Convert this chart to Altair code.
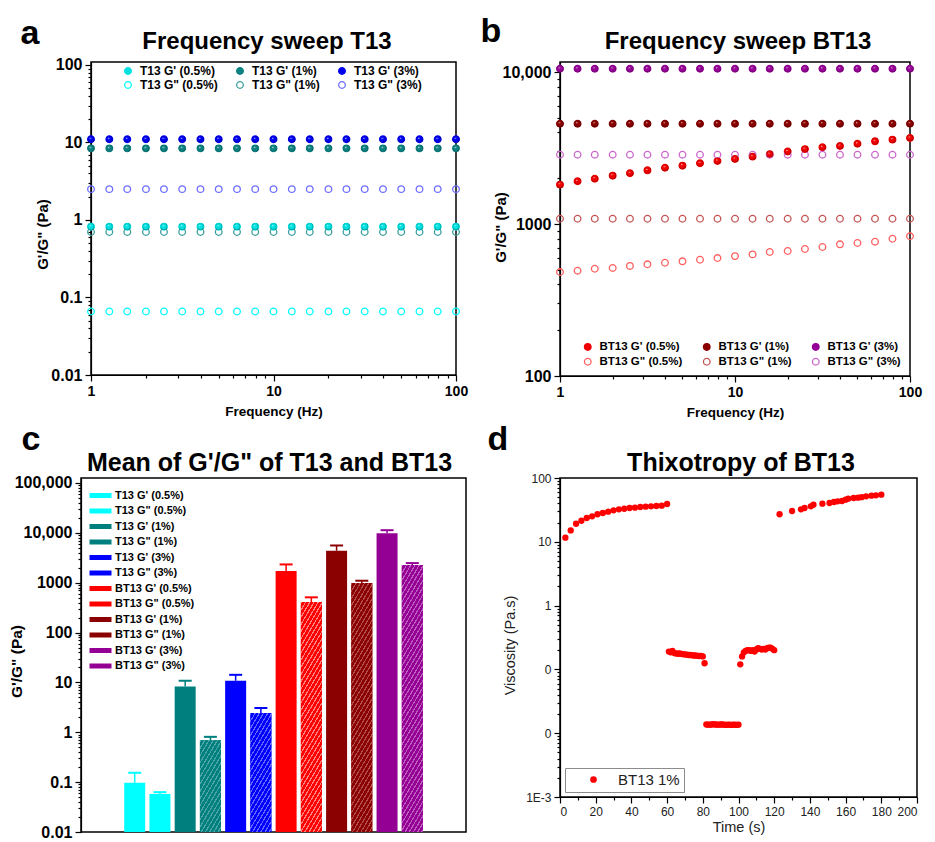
import math
import altair as alt
import pandas as pd

FONT = "Liberation Sans"

# ---------------- panel a : frequency sweep T13 ----------------
freq_hz = [1, 1.26, 1.58, 2.0, 2.51, 3.16, 3.98, 5.01, 6.31, 7.94, 10,
           12.6, 15.8, 20.0, 25.1, 31.6, 39.8, 50.1, 63.1, 79.4, 100]
# legend order (column by column): G'/G" pairs for each concentration
a_series = ["T13 G' (0.5%)", 'T13 G" (0.5%)', "T13 G' (1%)",
            'T13 G" (1%)', "T13 G' (3%)", 'T13 G" (3%)']
a_gp_05 = [0.82, 0.82, 0.82, 0.82, 0.82, 0.82, 0.82, 0.82, 0.82, 0.82, 0.82,
           0.82, 0.82, 0.82, 0.82, 0.82, 0.82, 0.82, 0.82, 0.82, 0.82]
a_gpp_05 = [0.066, 0.066, 0.066, 0.066, 0.066, 0.066, 0.066, 0.066, 0.066, 0.066, 0.066,
            0.066, 0.066, 0.066, 0.066, 0.066, 0.066, 0.066, 0.066, 0.066, 0.066]
a_gp_1 = [8.4, 8.4, 8.4, 8.4, 8.4, 8.4, 8.4, 8.4, 8.4, 8.4, 8.4,
          8.4, 8.4, 8.4, 8.4, 8.4, 8.4, 8.4, 8.4, 8.4, 8.4]
a_gpp_1 = [0.70, 0.70, 0.70, 0.70, 0.70, 0.70, 0.70, 0.70, 0.70, 0.70, 0.70,
           0.70, 0.70, 0.70, 0.70, 0.70, 0.70, 0.70, 0.70, 0.70, 0.70]
a_gp_3 = [11.0, 11.0, 11.0, 11.0, 11.0, 11.0, 11.0, 11.0, 11.0, 11.0, 11.0,
          11.0, 11.0, 11.0, 11.0, 11.0, 11.0, 11.0, 11.0, 11.0, 11.0]
a_gpp_3 = [2.5, 2.5, 2.5, 2.5, 2.5, 2.5, 2.5, 2.5, 2.5, 2.5, 2.5,
           2.5, 2.5, 2.5, 2.5, 2.5, 2.5, 2.5, 2.5, 2.5, 2.5]
a_stroke = ["#00E0E0", "#00FFFF", "#0F8282", "#3A9E9E", "#0000EE", "#6C6CFF"]
a_fill = ["#00E0E0", "transparent", "#0F8282", "transparent", "#0000EE", "transparent"]
a_dark = ["#007070", None, "#004040", None, "#000070", None]

# ---------------- panel b : frequency sweep BT13 ----------------
b_series = ["BT13 G' (0.5%)", 'BT13 G" (0.5%)', "BT13 G' (1%)",
            'BT13 G" (1%)', "BT13 G' (3%)", 'BT13 G" (3%)']
b_gp_05 = [1815, 1910, 1985, 2080, 2157, 2255, 2346, 2420, 2508, 2597, 2680,
           2775, 2880, 3000, 3110, 3197, 3260, 3373, 3499, 3589, 3681]
b_gpp_05 = [483, 493, 508, 514, 530, 543, 556, 568, 582, 597, 615,
            631, 654, 664, 685, 706, 735, 750, 765, 800, 830]
b_gp_1 = [4570, 4570, 4570, 4570, 4570, 4570, 4570, 4570, 4570, 4570, 4570,
          4570, 4570, 4570, 4570, 4570, 4570, 4570, 4570, 4570, 4570]
b_gpp_1 = [1083, 1083, 1083, 1083, 1083, 1083, 1083, 1083, 1083, 1083, 1083,
           1083, 1083, 1083, 1083, 1083, 1083, 1083, 1083, 1083, 1083]
b_gp_3 = [10500, 10500, 10500, 10500, 10500, 10500, 10500, 10500, 10500, 10500, 10500,
          10500, 10500, 10500, 10500, 10500, 10500, 10500, 10500, 10500, 10500]
b_gpp_3 = [2857, 2857, 2857, 2857, 2857, 2857, 2857, 2857, 2857, 2857, 2857,
           2857, 2857, 2857, 2857, 2857, 2857, 2857, 2857, 2857, 2857]
b_stroke = ["#F00000", "#FF5E5E", "#8A0000", "#C45454", "#960096", "#CC66CC"]
b_fill = ["#F00000", "transparent", "#8A0000", "transparent", "#960096", "transparent"]
b_dark = ["#700000", None, "#3A0000", None, "#500050", None]

# ---------------- panel c : mean bars ----------------
c_categories = ["T13 G' (0.5%)", 'T13 G" (0.5%)', "T13 G' (1%)", 'T13 G" (1%)',
                "T13 G' (3%)", 'T13 G" (3%)', "BT13 G' (0.5%)", 'BT13 G" (0.5%)',
                "BT13 G' (1%)", 'BT13 G" (1%)', "BT13 G' (3%)", 'BT13 G" (3%)']
c_means = [0.097, 0.058, 8.3, 0.69, 10.8, 2.44, 1711, 410, 4365, 985, 9840, 2256]
c_sd = [0.057, 0.005, 2.5, 0.12, 3.4, 0.63, 615, 99, 1215, 111, 1460, 218]
c_colors = ["#00FFFF", "#00FFFF", "#007F7F", "#007F7F", "#0000FF", "#0000FF",
            "#FF0000", "#FF0000", "#8B0000", "#8B0000", "#930093", "#930093"]
c_stripe = ["#7FFFFF", "#7FFFFF", "#4DA6A6", "#4DA6A6", "#6666FF", "#6666FF",
            "#FF8080", "#FF8080", "#B34D4D", "#B34D4D", "#BF5CBF", "#BF5CBF"]
c_hatched = [False, False, False, True, False, True, False, True, False, True, False, True]

# ---------------- panel d : thixotropy ----------------
d_time_s = [3, 6, 9, 12, 15, 18, 21, 24, 27, 30, 33, 36, 39, 42, 45, 48, 51, 54, 57, 60,
            61, 62, 63, 64, 65, 66, 67, 68, 69, 70, 71, 72, 73, 74, 75, 76, 77, 78, 79, 80, 81,
            82, 83, 84, 85, 86, 87, 88, 89, 90, 91, 92, 93, 94, 95, 96, 97, 98, 99, 100,
            101, 102, 103, 104, 105, 106, 107, 108, 109, 110, 111, 112, 113, 114, 115, 116,
            117, 118, 119, 120,
            123, 130, 135, 137, 140.5, 142, 147, 151, 153.5, 155.5, 158, 160, 161.5, 164.5,
            167, 169, 171.5, 174.5, 177, 180]
d_viscosity = [11.6, 15.1, 19.2, 21.4, 23.6, 25.1, 27.0, 28.3, 29.7, 31.1, 32.3, 33.0, 33.9,
               34.3, 35.1, 35.5, 36.0, 36.4, 36.8, 39.1,
               0.19, 0.185, 0.195, 0.18, 0.178, 0.176, 0.178, 0.175, 0.172, 0.172, 0.17, 0.168,
               0.168, 0.166, 0.165, 0.165, 0.163, 0.162, 0.163, 0.16, 0.125,
               0.0137, 0.0136, 0.0136, 0.0137, 0.0138, 0.0137, 0.0136, 0.0136, 0.0137, 0.0137,
               0.0136, 0.0135, 0.0136, 0.0136, 0.0135, 0.0136, 0.0136, 0.0135, 0.0136,
               0.12, 0.16, 0.185, 0.195, 0.2, 0.2, 0.195, 0.2, 0.19, 0.205, 0.215, 0.21, 0.205,
               0.21, 0.205, 0.215, 0.22, 0.22, 0.21, 0.2,
               27.0, 30.4, 32.3, 33.9, 36.0, 38.2, 39.6, 40.6, 42.1, 43.1, 43.6, 45.7, 47.4,
               48.6, 49.2, 50.0, 51.6, 52.9, 53.5, 54.8]
d_label = "BT13 1%"

# titles and axis tick labels
panel_titles = ["Frequency sweep T13", "Frequency sweep BT13",
                "Mean of G'/G\" of T13 and BT13", "Thixotropy of BT13"]
freq_majors = [1, 10, 100]
freq_labels = ["1", "10", "100"]
a_majors = [0.01, 0.1, 1, 10, 100]
a_labels = ["0.01", "0.1", "1", "10", "100"]
b_majors = [100, 1000, 10000]
b_labels = ["100", "1000", "10,000"]
c_majors = [0.01, 0.1, 1, 10, 100, 1000, 10000, 100000]
c_labels = ["0.01", "0.1", "1", "10", "100", "1000", "10,000", "100,000"]
d_majors = [0.001, 0.01, 0.1, 1, 10, 100]
d_labels = ["1E-3", "0", "0", "1", "10", "100"]

# ---------------- helpers ----------------
MAJOR = "abs(log(datum.value)/LN10 - round(log(datum.value)/LN10)) < 0.0001"


def log_tick_values(lo, hi):
    vals = []
    for e in range(lo, hi):
        for k in range(1, 10):
            vals.append(float(f"{k}e{e}"))
    vals.append(float(f"1e{hi}"))
    return vals


def label_expr(vals, labels):
    expr = "''"
    for v, l in zip(reversed(vals), reversed(labels)):
        expr = f"(abs(datum.value - {v!r}) < {v!r} * 0.000001) ? '{l}' : {expr}"
    return expr


def log_axis(lo, hi, majors, labels, title, bold=True, size=16, **kw):
    return alt.Axis(
        values=log_tick_values(lo, hi), labelExpr=label_expr(majors, labels),
        tickSize={"condition": {"test": MAJOR, "value": 6}, "value": 3},
        labelOverlap=False, grid=False, title=title,
        labelFont=FONT, labelFontSize=size, labelFontWeight="bold" if bold else "normal",
        titleFont=FONT, titleFontWeight="bold" if bold else "normal", **kw)


def long_df(names, arrays, xs):
    rows = []
    for n, arr in zip(names, arrays):
        for x, v in zip(xs, arr):
            rows.append({"freq": x, "value": v, "series": n})
    return pd.DataFrame(rows)


def sphere(base, dark):
    return {"gradient": "radial", "x1": 0.38, "y1": 0.3, "r1": 0.0,
            "x2": 0.5, "y2": 0.5, "r2": 0.55,
            "stops": [{"offset": 0.0, "color": "#FFFFFF"},
                      {"offset": 0.3, "color": base},
                      {"offset": 0.75, "color": base},
                      {"offset": 1.0, "color": dark}]}


def text_at(txt, x, y, size, align="center"):
    return alt.Chart(pd.DataFrame({"t": [txt]})).mark_text(
        font=FONT, fontSize=size, fontWeight="bold", align=align,
        baseline="alphabetic", color="black").encode(
        text="t:N", x=alt.value(x), y=alt.value(y))


def sweep_panel(df, names, strokes, fills, darks, ydom, yaxis, legend, w, h, deco):
    x_enc = alt.X("freq:Q", scale=alt.Scale(type="log", domain=[1, 100], nice=False),
                  axis=log_axis(0, 2, freq_majors, freq_labels, "Frequency (Hz)", size=14,
                                labelFlush=False, labelPadding=3, titleFontSize=13.5,
                                titlePadding=6))
    y_enc = alt.Y("value:Q", scale=alt.Scale(type="log", domain=ydom, nice=False), axis=yaxis)
    base = alt.Chart(df).mark_point(size=44, strokeWidth=1.3, opacity=1).encode(
        x=x_enc, y=y_enc,
        stroke=alt.Stroke("series:N", scale=alt.Scale(domain=names, range=strokes), legend=legend),
        fill=alt.Fill("series:N", scale=alt.Scale(domain=names, range=fills), legend=legend),
    )
    layers = [base]
    for i in range(len(names)):
        if darks[i]:
            layers.append(
                alt.Chart(df).transform_filter(alt.datum.series == names[i])
                .mark_point(size=44, filled=True, fill=sphere(fills[i], darks[i]), opacity=1,
                            strokeWidth=0)
                .encode(x=x_enc, y=y_enc))
    layers += deco
    return alt.layer(*layers).properties(width=w, height=h)


# ---------------- panel a ----------------
A_W, A_H = 365, 313
df_a = long_df(a_series, [a_gp_05, a_gpp_05, a_gp_1, a_gpp_1, a_gp_3, a_gpp_3], freq_hz)
legend_a = alt.Legend(title=None, orient="none", legendX=31, legendY=3, columns=3,
                      columnPadding=16, rowPadding=2, padding=0, labelFont=FONT,
                      labelFontSize=12, labelFontWeight="bold", labelOffset=6,
                      symbolType="circle", symbolSize=44, symbolStrokeWidth=1.3, labelColor="black")
yaxis_a = log_axis(-2, 2, a_majors, a_labels, "G'/G\" (Pa)", size=16, labelPadding=3,
                   labelFlush=False, titleFontSize=15, titleAngle=270, titleBaseline="middle",
                   titleX=-49, titleY=172)
pa = sweep_panel(df_a, a_series, a_stroke, a_fill, a_dark,
                 [0.01, 109.3], yaxis_a, legend_a, A_W, A_H,
                 [text_at("a", -61, -18, 34), text_at(panel_titles[0], A_W / 2 - 6.5, -13, 24)])

# ---------------- panel b ----------------
B_W, B_H = 350, 314
df_b = long_df(b_series, [b_gp_05, b_gpp_05, b_gp_1, b_gpp_1, b_gp_3, b_gpp_3], freq_hz)
legend_b = alt.Legend(title=None, orient="none", legendX=22, legendY=279, columns=3,
                      columnPadding=17, rowPadding=2, padding=0, labelFont=FONT,
                      labelFontSize=11.5, labelFontWeight="bold", labelOffset=6,
                      symbolType="circle", symbolSize=44, symbolStrokeWidth=1.3, labelColor="black")
yaxis_b = log_axis(2, 4, b_majors, b_labels, "G'/G\" (Pa)", size=16, labelPadding=3,
                   labelFlush=False, titleFontSize=15, titleAngle=270, titleBaseline="middle",
                   titleX=-60, titleY=165)
pb = sweep_panel(df_b, b_series, b_stroke, b_fill, b_dark,
                 [100, 11637], yaxis_b, legend_b, B_W, B_H,
                 [text_at("b", -69, -20, 34), text_at(panel_titles[1], B_W / 2 + 3, -13, 24)])

# ---------------- panel c ----------------
C_W, C_H = 385, 354
C_LO, C_HI = 0.01, 125900
BAR_W = 21
df_c = pd.DataFrame({"cat": c_categories, "mean": c_means, "sd": c_sd,
                     "idx": list(range(len(c_categories)))})
df_c["top"] = df_c["mean"] + df_c["sd"]


def hatch(base, light, value, s=1.7, period=4.2, lw=1.3):
    h = (math.log10(value) - math.log10(C_LO)) / (math.log10(C_HI) - math.log10(C_LO)) * C_H
    w = BAR_W
    total = s * w + h
    k = total / (s * s * w * w + h * h)
    dc, dl = period * s, lw * s
    stops, c = [], 0.0
    while c < total:
        o1, o2, o3 = c / total, min((c + dl) / total, 1.0), min((c + dc) / total, 1.0)
        stops += [{"offset": o1, "color": light}, {"offset": o2, "color": light},
                  {"offset": o2, "color": base}, {"offset": o3, "color": base}]
        c += dc
    return {"gradient": "linear", "x1": 0, "y1": 0, "x2": s * w * k, "y2": h * k,
            "stops": stops}


cx = alt.X("idx:Q", scale=alt.Scale(domain=[-1.93, 12.93], nice=False, zero=False), axis=None)
cy_scale = alt.Scale(type="log", domain=[C_LO, C_HI], nice=False)
cy_axis = log_axis(-2, 5, c_majors, c_labels, "G'/G\" (Pa)", size=16, labelPadding=3,
                   labelFlush=False, titleFontSize=15.5, titleAngle=270, titleBaseline="middle",
                   titleX=-65, titleY=183)
legend_c = alt.Legend(title=None, orient="none", legendX=8, legendY=12, padding=0,
                      labelFont=FONT, labelFontSize=11, labelFontWeight="bold",
                      labelColor="black", symbolType="M-2.2,-0.5L2.2,-0.5L2.2,0.5L-2.2,0.5Z",
                      symbolSize=100, symbolOffset=6, labelOffset=9, rowPadding=3.5,
                      symbolStrokeWidth=0, symbolOpacity=1)
c_color = alt.Color("cat:N", scale=alt.Scale(domain=c_categories, range=c_colors),
                    legend=legend_c)
c_color_nl = alt.Color("cat:N", scale=alt.Scale(domain=c_categories, range=c_colors),
                       legend=None)
bars = alt.Chart(df_c).mark_bar(size=BAR_W, opacity=1).encode(
    x=cx, y=alt.Y("mean:Q", scale=cy_scale, axis=cy_axis), y2=alt.datum(C_LO), color=c_color)
err = alt.Chart(df_c).mark_rule(strokeWidth=1.5).encode(
    x=cx, y=alt.Y("mean:Q", scale=cy_scale), y2="top:Q", color=c_color_nl)
caps = alt.Chart(df_c).mark_tick(size=13, thickness=2, opacity=1, orient="horizontal").encode(
    x=cx, y=alt.Y("top:Q", scale=cy_scale), color=c_color_nl)
c_layers = [bars, err, caps]
for i, hz in enumerate(c_hatched):
    if hz:
        c_layers.append(
            alt.Chart(df_c).transform_filter(alt.datum.idx == i)
            .mark_bar(size=BAR_W, fill=hatch(c_colors[i], c_stripe[i], c_means[i]), opacity=1)
            .encode(x=cx, y=alt.Y("mean:Q", scale=cy_scale), y2=alt.datum(C_LO)))
c_layers += [text_at("c", -50, -28, 34), text_at(panel_titles[2], C_W / 2 - 4, -7, 25)]
pc = alt.layer(*c_layers).properties(width=C_W, height=C_H)

# ---------------- panel d ----------------
D_W, D_H = 357, 319
df_d = pd.DataFrame({"time": d_time_s, "visc": d_viscosity, "lab": [d_label] * len(d_time_s)})
d_x_axis = alt.Axis(values=list(range(0, 201, 10)),
                    labelExpr="datum.value % 20 == 0 ? datum.label : ''",
                    tickSize={"condition": {"test": "datum.value % 20 == 0", "value": 6}, "value": 3},
                    labelOverlap=False, labelFlush=True, grid=False, title="Time (s)",
                    labelFont=FONT, labelFontSize=12, titleFont=FONT, titleFontSize=14.5,
                    titleFontWeight="normal", labelPadding=3, titlePadding=3,
                    labelColor="#222222", titleColor="#222222")
d_y_axis = log_axis(-3, 2, d_majors, d_labels, "Viscosity (Pa.s)", bold=False, size=12,
                    labelFlush=False, labelPadding=3, titleFontSize=14.5, titleAngle=270,
                    titleBaseline="middle", titleX=-50, titleY=167,
                    labelColor="#222222", titleColor="#222222")
legend_d = alt.Legend(title=None, orient="bottom-left", offset=5, padding=4,
                      strokeColor="#8C8C8C", fillColor="white", labelFont=FONT,
                      labelFontSize=15, labelColor="#222222", symbolType="circle",
                      symbolSize=45, symbolOffset=17, labelOffset=17, symbolStrokeWidth=0)
pts = alt.Chart(df_d).mark_circle(size=40, opacity=1).encode(
    x=alt.X("time:Q", scale=alt.Scale(domain=[0, 200], nice=False), axis=d_x_axis),
    y=alt.Y("visc:Q", scale=alt.Scale(type="log", domain=[0.001, 100], nice=False), axis=d_y_axis),
    color=alt.Color("lab:N", scale=alt.Scale(domain=[d_label], range=["#FF0000"]), legend=legend_d))
pdd = alt.layer(pts, text_at("d", -62, -28, 34),
                text_at(panel_titles[3], D_W / 2 + 2.5, -7, 25)).properties(width=D_W, height=D_H)

chart = alt.concat(
    pa, pb, pc, pdd, columns=2, spacing={"row": 102, "column": 94},
    bounds="flush", align="each", center={"column": True, "row": False},
).resolve_scale(
    color="independent", fill="independent", stroke="independent",
).resolve_legend(
    color="independent", fill="independent", stroke="independent",
).properties(
    padding={"left": 0, "top": 6, "right": 0, "bottom": 0}, background="white",
).configure_view(stroke="black", strokeWidth=1.5).configure_axis(
    domainColor="black", tickColor="black", labelColor="black", titleColor="black",
    domainWidth=1.2, tickWidth=1.2, grid=False,
).configure_legend(labelLimit=300)

chart.save("out.html", embed_options={"renderer": "svg", "actions": False})
